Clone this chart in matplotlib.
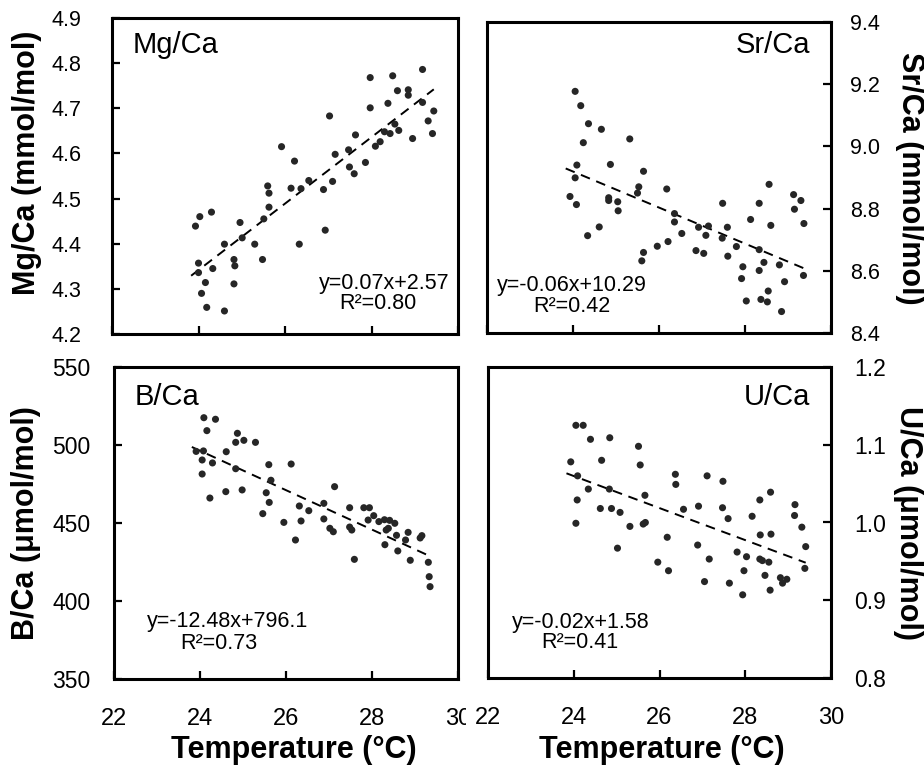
import numpy as np
import matplotlib
matplotlib.use('Agg')
import matplotlib.pyplot as plt
from matplotlib.transforms import Bbox

plt.rcParams['font.family'] = ['Liberation Sans', 'DejaVu Sans']

temp_ticks = [22, 24, 26, 28, 30]

mg_temp = [23.93, 24.03, 24.30, 24.00, 24.00, 24.33, 24.16, 24.07, 24.19, 24.60,
           24.60, 24.82, 24.84, 24.82, 24.96, 25.01, 25.30, 25.48, 25.51, 25.63,
           25.63, 25.60, 25.92, 26.14, 26.22, 26.33, 26.37, 26.55, 26.89, 26.93,
           27.03, 27.10, 27.16, 27.49, 27.47, 27.60, 27.63, 27.86, 27.97, 27.97,
           28.09, 28.20, 28.30, 28.38, 28.43, 28.49, 28.54, 28.60, 28.63, 28.85,
           28.85, 28.95, 29.18, 29.18, 29.31, 29.41, 29.44]
mg_val = [4.439, 4.460, 4.470, 4.357, 4.336, 4.345, 4.314, 4.290, 4.259, 4.251,
          4.399, 4.365, 4.351, 4.311, 4.447, 4.413, 4.399, 4.365, 4.455, 4.481,
          4.512, 4.528, 4.615, 4.523, 4.583, 4.399, 4.522, 4.540, 4.520, 4.430,
          4.683, 4.538, 4.598, 4.570, 4.608, 4.555, 4.641, 4.580, 4.701, 4.768,
          4.616, 4.626, 4.648, 4.711, 4.644, 4.772, 4.665, 4.739, 4.651, 4.741,
          4.729, 4.633, 4.786, 4.713, 4.672, 4.644, 4.694]

sr_temp = [24.05, 24.18, 24.36, 24.66, 24.24, 25.32, 24.09, 24.87, 24.05, 23.93,
           24.08, 24.83, 24.83, 25.04, 25.05, 25.64, 25.53, 25.50, 26.18, 24.34,
           24.61, 25.64, 25.60, 25.96, 26.21, 26.36, 26.36, 26.53, 26.86, 27.04,
           26.92, 27.09, 27.15, 27.47, 27.48, 27.59, 27.60, 27.80, 28.13, 27.95,
           27.92, 28.03, 28.33, 28.33, 28.33, 28.44, 28.56, 28.60, 28.54, 28.37,
           28.52, 28.80, 28.92, 28.85, 29.13, 29.30, 29.15, 29.37, 29.36]
sr_val = [9.177, 9.131, 9.073, 9.055, 9.012, 9.024, 8.940, 8.942, 8.899, 8.839,
          8.813, 8.835, 8.826, 8.822, 8.793, 8.920, 8.870, 8.850, 8.863, 8.713,
          8.741, 8.659, 8.632, 8.679, 8.694, 8.784, 8.757, 8.720, 8.665, 8.656,
          8.740, 8.714, 8.744, 8.705, 8.817, 8.740, 8.647, 8.678, 8.765, 8.613,
          8.575, 8.503, 8.817, 8.668, 8.601, 8.627, 8.878, 8.746, 8.535, 8.508,
          8.500, 8.619, 8.565, 8.469, 8.845, 8.826, 8.798, 8.752, 8.585]

b_temp = [24.09, 24.36, 24.16, 23.91, 24.08, 24.05, 24.29, 24.05, 24.23, 24.61,
          24.83, 24.87, 24.83, 25.02, 25.29, 24.60, 24.98, 25.60, 25.65, 25.54,
          25.61, 25.46, 26.12, 25.95, 26.22, 26.31, 26.35, 26.53, 26.88, 26.88,
          27.13, 27.02, 27.10, 27.48, 27.48, 27.53, 27.59, 27.81, 27.94, 27.91,
          28.04, 28.16, 28.29, 28.41, 28.53, 28.33, 28.38, 28.30, 28.57, 28.60,
          28.78, 28.84, 28.89, 29.12, 29.16, 29.31, 29.33, 29.35]
b_val = [517.5, 516.5, 509.2, 495.9, 496.2, 490.4, 488.5, 481.4, 466.0, 495.7,
         484.8, 507.5, 501.7, 503.0, 501.7, 470.1, 471.2, 487.4, 477.4, 469.4,
         463.2, 456.0, 487.8, 450.4, 439.1, 460.9, 451.3, 457.9, 462.6, 452.6,
         473.3, 446.6, 444.4, 459.8, 447.4, 445.5, 426.7, 459.8, 459.8, 451.9,
         454.7, 450.9, 452.1, 451.7, 449.8, 445.5, 446.6, 436.1, 442.1, 432.1,
         439.1, 444.0, 426.1, 440.4, 441.9, 424.8, 415.6, 409.2]

u_temp = [24.05, 24.22, 24.39, 24.84, 23.93, 24.65, 25.51, 25.55, 24.09, 24.34,
          24.83, 24.08, 24.05, 24.62, 24.88, 25.08, 25.31, 25.66, 25.62, 25.67,
          25.02, 26.37, 26.38, 26.56, 26.18, 25.96, 26.21, 26.91, 27.11, 26.89,
          27.16, 27.05, 27.48, 27.47, 27.60, 27.63, 27.81, 28.03, 27.97, 27.94,
          28.16, 28.34, 28.59, 28.35, 28.60, 28.34, 28.40, 28.55, 28.46, 28.58,
          28.82, 28.97, 28.87, 29.16, 29.15, 29.32, 29.41, 29.39]
u_val = [1.125, 1.125, 1.107, 1.109, 1.078, 1.080, 1.098, 1.074, 1.060, 1.043,
         1.043, 1.029, 0.999, 1.018, 1.018, 1.013, 0.995, 1.035, 0.998, 1.000,
         0.967, 1.062, 1.049, 1.017, 0.981, 0.949, 0.938, 1.021, 1.060, 0.971,
         0.953, 0.924, 1.053, 1.019, 1.005, 0.922, 0.962, 0.956, 0.938, 0.907,
         1.008, 1.029, 1.039, 0.984, 0.985, 0.953, 0.951, 0.949, 0.932, 0.913,
         0.929, 0.927, 0.922, 1.023, 1.009, 0.994, 0.969, 0.941]

mg_ticks = [4.2, 4.3, 4.4, 4.5, 4.6, 4.7, 4.8, 4.9]
sr_ticks = [8.4, 8.6, 8.8, 9.0, 9.2, 9.4]
b_ticks = [350, 400, 450, 500, 550]
u_ticks = [0.8, 0.9, 1.0, 1.1, 1.2]

titles = ['Mg/Ca', 'Sr/Ca', 'B/Ca', 'U/Ca']
ylabels = ['Mg/Ca (mmol/mol)', 'Sr/Ca (mmol/mol)', 'B/Ca (\u03bcmol/mol)', 'U/Ca (\u03bcmol/mol)']
equations = ['y=0.07x+2.57', 'y=-0.06x+10.29', 'y=-12.48x+796.1', 'y=-0.02x+1.58']
r2_texts = ['R\u00b2=0.80', 'R\u00b2=0.42', 'R\u00b2=0.73', 'R\u00b2=0.41']
xlabel = 'Temperature (\u00b0C)'

W, H = 924, 769
fig = plt.figure(figsize=(W / 100, H / 100), dpi=100)


def px_axes(l, t, r, b):
    return fig.add_axes([l / W, 1 - b / H, (r - l) / W, (b - t) / H])


DOT = '#262626'


def panel(ax, xs, ys, yticks, ylabels_txt, side, ytick_fs, ypad, show_x, title, title_pos,
          eq, eq_pos, r2, r2_pos):
    xs = np.asarray(xs)
    ys = np.asarray(ys)
    ax.scatter(xs, ys, s=26, color=DOT, edgecolors='none', zorder=3)
    k, c = np.polyfit(xs, ys, 1)
    xx = np.array([xs.min() - 0.1, xs.max()])
    ax.plot(xx, k * xx + c, color='black', lw=1.4, dashes=(5, 3.5), zorder=2)
    ax.set_xlim(22, 30)
    ax.set_ylim(yticks[0], yticks[-1])
    ax.set_xticks(temp_ticks)
    ax.set_yticks(yticks)
    ax.set_yticklabels(ylabels_txt)
    for s in ax.spines.values():
        s.set_linewidth(2.2)
        s.set_color('black')
    ax.tick_params(axis='both', direction='in', length=6, width=1.6, colors='black')
    ax.tick_params(axis='x', top=False, bottom=True, labelbottom=show_x, labelsize=17, pad=21)
    if side == 'left':
        ax.tick_params(axis='y', left=True, right=False, labelleft=True, labelright=False,
                       labelsize=ytick_fs, pad=ypad)
    else:
        ax.tick_params(axis='y', left=False, right=True, labelleft=False, labelright=True,
                       labelsize=ytick_fs, pad=ypad)
    ha = 'left' if title_pos[0] < 0.5 else 'right'
    ax.text(title_pos[0], title_pos[1], title, transform=ax.transAxes, fontsize=21,
            ha=ha, va='center')
    ax.text(eq_pos[0], eq_pos[1], eq, transform=ax.transAxes, fontsize=15.5, ha='center', va='center')
    ax.text(r2_pos[0], r2_pos[1], r2, transform=ax.transAxes, fontsize=15.5, ha='center', va='center')


ax1 = px_axes(112, 18, 458, 334)
ax2 = px_axes(487, 22, 831, 333)
ax3 = px_axes(114, 367, 458, 679)
ax4 = px_axes(488, 367, 831, 678)

panel(ax1, mg_temp, mg_val, mg_ticks, ['%.1f' % v for v in mg_ticks], 'left', 15.5, 22, False,
      titles[0], (0.061, 0.915), equations[0], (0.786, 0.161), r2_texts[0], (0.769, 0.098))
panel(ax2, sr_temp, sr_val, sr_ticks, ['%.1f' % v for v in sr_ticks], 'right', 15.5, 14, False,
      titles[1], (0.939, 0.926), equations[1], (0.246, 0.154), r2_texts[1], (0.246, 0.084))
panel(ax3, b_temp, b_val, b_ticks, [str(v) for v in b_ticks], 'left', 16.5, 17, True,
      titles[2], (0.061, 0.904), equations[2], (0.330, 0.183), r2_texts[2], (0.304, 0.115))
panel(ax4, u_temp, u_val, u_ticks, ['%.1f' % v for v in u_ticks], 'right', 16.5, 16.5, True,
      titles[3], (0.939, 0.904), equations[3], (0.270, 0.180), r2_texts[3], (0.268, 0.113))

# y-axis titles
fig.text(27 / W, 1 - 163 / H, ylabels[0], rotation=90, fontsize=22, fontweight='bold',
         ha='center', va='center')
fig.text(26 / W, 1 - 523 / H, ylabels[2], rotation=90, fontsize=22, fontweight='bold',
         ha='center', va='center')
fig.text(910 / W, 1 - 178 / H, ylabels[1], rotation=270, fontsize=22, fontweight='bold',
         ha='center', va='center')
fig.text(908 / W, 1 - 523 / H, ylabels[3], rotation=270, fontsize=22, fontweight='bold',
         ha='center', va='center')

# x-axis titles
fig.text(294 / W, 1 - 750 / H, xlabel, fontsize=22, fontweight='bold', ha='center', va='center')
fig.text(662 / W, 1 - 750 / H, xlabel, fontsize=22, fontweight='bold', ha='center', va='center')

# the last label of the left bottom panel is partly hidden in the reference
fig.canvas.draw()
clip = Bbox.from_extents(0, 0, 466, H)
for lab in ax3.get_xticklabels():
    if lab.get_text() == '30':
        lab.set_clip_box(clip)
        lab.set_clip_on(True)

fig.savefig('out.png', dpi=100)
